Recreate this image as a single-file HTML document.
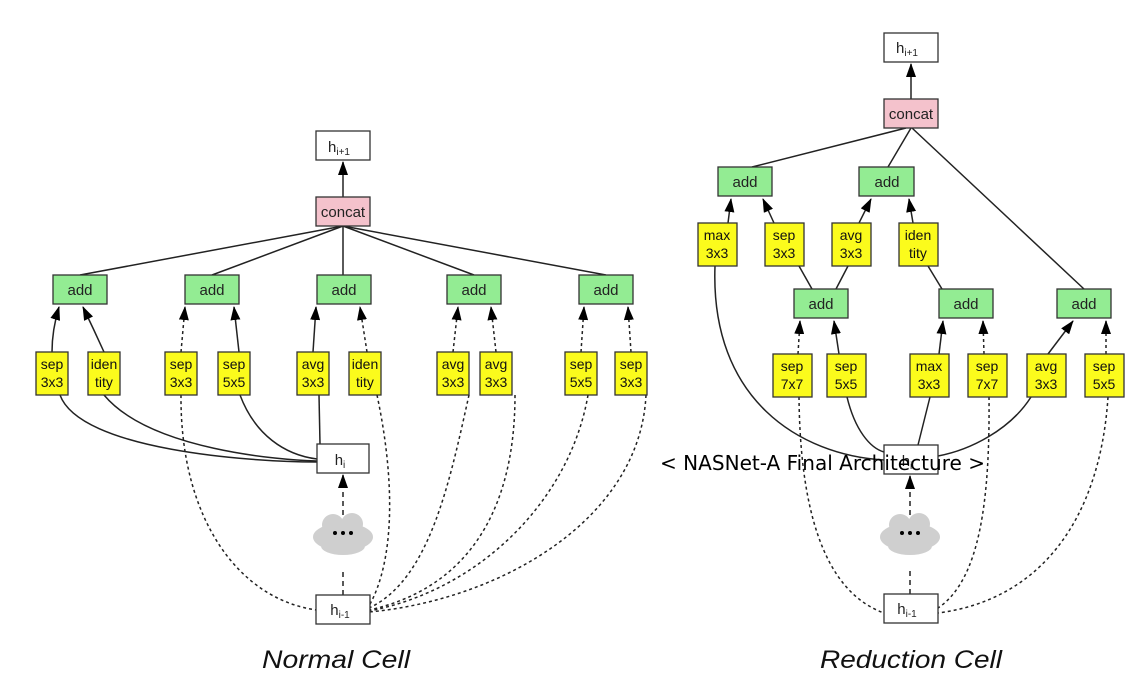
<!DOCTYPE html>
<html><head><meta charset="utf-8"><style>
html,body{margin:0;padding:0;background:#fff}
svg{display:block}
text{font-family:"Liberation Sans",Arial,sans-serif}
</style></head><body>
<svg width="1144" height="683" viewBox="0 0 1144 683" xmlns="http://www.w3.org/2000/svg">
<defs>
<marker id="a" markerWidth="14" markerHeight="10" refX="13" refY="5" orient="auto" markerUnits="userSpaceOnUse" viewBox="0 0 14 10">
<path d="M0,0 L14,5 L0,10 Z" fill="#000"/>
</marker>
</defs>
<g fill="none" stroke="#222" stroke-width="1.5">
<!-- NORMAL concat lines -->
<path d="M343,197 V162" marker-end="url(#a)"/>
<path d="M343,226 L80,275"/>
<path d="M343,226 L212,275"/>
<path d="M343,226 L343,275"/>
<path d="M343,226 L474,275"/>
<path d="M343,226 L606,275"/>
<!-- arrows from yellows to adds -->
<path d="M52,352 Q52,330 59,307" marker-end="url(#a)"/>
<path d="M104,352 Q94,330 83,307" marker-end="url(#a)"/>
<path d="M181,352 L185,307" stroke-dasharray="3,3" marker-end="url(#a)"/>
<path d="M239,352 L234,307" marker-end="url(#a)"/>
<path d="M313,352 L316,307" marker-end="url(#a)"/>
<path d="M367,352 L360,307" stroke-dasharray="3,3" marker-end="url(#a)"/>
<path d="M453,352 L458,307" stroke-dasharray="3,3" marker-end="url(#a)"/>
<path d="M496,352 L491,307" stroke-dasharray="3,3" marker-end="url(#a)"/>
<path d="M581,352 L584,307" stroke-dasharray="3,3" marker-end="url(#a)"/>
<path d="M631,352 L628,307" stroke-dasharray="3,3" marker-end="url(#a)"/>
<!-- from h_i -->
<path d="M60,395 C80,450 250,462 317,462"/>
<path d="M104,395 C150,450 280,460 317,461"/>
<path d="M240,395 C255,435 285,455 317,459"/>
<path d="M319,395 L320,444"/>
<!-- dotted from h_{i-1} -->
<g stroke-dasharray="3,3">
<path d="M181,395 C180,520 240,600 317,610"/>
<path d="M377,395 C395,480 395,560 369,606"/>
<path d="M469,395 C450,480 430,580 369,608"/>
<path d="M515,395 C515,520 460,590 369,610"/>
<path d="M588,395 C570,500 480,590 369,611"/>
<path d="M646,395 C640,520 500,600 369,612"/>
</g>
<path d="M343,595 V570" stroke-dasharray="5,4"/>
<path d="M343,515 V475" stroke-dasharray="5,4" marker-end="url(#a)"/>

<!-- REDUCTION -->
<path d="M911,99 V64" marker-end="url(#a)"/>
<path d="M906,128 L752,167"/>
<path d="M911,128 L888,167"/>
<path d="M912,128 L1084,289"/>
<path d="M728,223 L731,199" marker-end="url(#a)"/>
<path d="M774,223 L763,199" marker-end="url(#a)"/>
<path d="M859,223 L871,199" marker-end="url(#a)"/>
<path d="M913,223 L909,199" marker-end="url(#a)"/>
<path d="M799,266 L812,289"/>
<path d="M848,266 L836,289"/>
<path d="M928,266 L942,289"/>
<path d="M798,354 L800,321" stroke-dasharray="3,3" marker-end="url(#a)"/>
<path d="M839,354 L834,321" marker-end="url(#a)"/>
<path d="M939,354 L943,321" marker-end="url(#a)"/>
<path d="M984,354 L983,321" stroke-dasharray="3,3" marker-end="url(#a)"/>
<path d="M1048,354 L1073,321" marker-end="url(#a)"/>
<path d="M1106,354 L1106,321" stroke-dasharray="3,3" marker-end="url(#a)"/>
<!-- from h_i -->
<path d="M715,266 C710,400 800,455 884,460"/>
<path d="M847,397 C855,430 870,448 884,452"/>
<path d="M930,397 L918,445"/>
<path d="M1031,397 C1010,430 970,450 938,456"/>
<!-- dotted -->
<g stroke-dasharray="3,3">
<path d="M799,397 C800,500 820,590 884,613"/>
<path d="M989,397 C990,500 980,580 938,608"/>
<path d="M1108,397 C1100,520 1040,600 938,613"/>
</g>
<path d="M910,594 V570" stroke-dasharray="5,4"/>
<path d="M910,515 V476" stroke-dasharray="5,4" marker-end="url(#a)"/>
</g>

<!-- clouds -->
<g fill="#cfcfcf">
<ellipse cx="343" cy="537" rx="30" ry="14"/><circle cx="333" cy="525" r="11"/><circle cx="352" cy="524" r="11"/><ellipse cx="343" cy="546" rx="22" ry="9"/>
<ellipse cx="910" cy="537" rx="30" ry="14"/><circle cx="900" cy="525" r="11"/><circle cx="919" cy="524" r="11"/><ellipse cx="910" cy="546" rx="22" ry="9"/>
</g>
<g fill="#000"><circle cx="335" cy="533" r="2"/><circle cx="343" cy="533" r="2"/><circle cx="351" cy="533" r="2"/>
<circle cx="902" cy="533" r="2"/><circle cx="910" cy="533" r="2"/><circle cx="918" cy="533" r="2"/></g>

<!-- boxes -->
<g stroke="#333" stroke-width="1.3">
<g fill="#fff">
<rect x="316" y="131" width="54" height="29"/><rect x="317" y="444" width="52" height="29"/><rect x="316" y="595" width="54" height="29"/>
<rect x="884" y="33" width="54" height="29"/><rect x="884" y="445" width="54" height="29"/><rect x="884" y="594" width="54" height="29"/>
</g>
<g fill="#f4c2cc"><rect x="316" y="197" width="54" height="29"/><rect x="884" y="99" width="54" height="29"/></g>
<g fill="#93ec93">
<rect x="53" y="275" width="54" height="29"/><rect x="185" y="275" width="54" height="29"/><rect x="317" y="275" width="54" height="29"/><rect x="447" y="275" width="54" height="29"/><rect x="579" y="275" width="54" height="29"/>
<rect x="718" y="167" width="54" height="29"/><rect x="859" y="167" width="55" height="29"/>
<rect x="794" y="289" width="54" height="29"/><rect x="939" y="289" width="54" height="29"/><rect x="1057" y="289" width="54" height="29"/>
</g>
<g fill="#fbfb1c">
<rect x="36" y="352" width="32" height="43"/><rect x="88" y="352" width="32" height="43"/><rect x="165" y="352" width="32" height="43"/><rect x="218" y="352" width="32" height="43"/><rect x="297" y="352" width="32" height="43"/><rect x="349" y="352" width="32" height="43"/><rect x="437" y="352" width="32" height="43"/><rect x="480" y="352" width="32" height="43"/><rect x="565" y="352" width="32" height="43"/><rect x="615" y="352" width="32" height="43"/>
<rect x="698" y="223" width="39" height="43"/><rect x="765" y="223" width="39" height="43"/><rect x="832" y="223" width="39" height="43"/><rect x="899" y="223" width="39" height="43"/>
<rect x="773" y="354" width="39" height="43"/><rect x="827" y="354" width="39" height="43"/><rect x="910" y="354" width="39" height="43"/><rect x="968" y="354" width="39" height="43"/><rect x="1027" y="354" width="39" height="43"/><rect x="1085" y="354" width="39" height="43"/>
</g>
</g>

<!-- labels -->
<g font-size="15" fill="#222" text-anchor="middle">
<text x="339" y="152">h<tspan font-size="10" dy="3">i+1</tspan></text>
<text x="343" y="217">concat</text>
<text x="340" y="465">h<tspan font-size="10" dy="3">i</tspan></text>
<text x="340" y="615">h<tspan font-size="10" dy="3">i-1</tspan></text>
<text x="907" y="53">h<tspan font-size="10" dy="3">i+1</tspan></text>
<text x="911" y="119">concat</text>
<text x="907" y="466">h<tspan font-size="10" dy="3">i</tspan></text>
<text x="907" y="614">h<tspan font-size="10" dy="3">i-1</tspan></text>
<text x="80" y="295">add</text><text x="212" y="295">add</text><text x="344" y="295">add</text><text x="474" y="295">add</text><text x="606" y="295">add</text>
<text x="745" y="187">add</text><text x="887" y="187">add</text>
<text x="821" y="309">add</text><text x="966" y="309">add</text><text x="1084" y="309">add</text>
</g>
<g font-size="14" fill="#111" text-anchor="middle">
<text x="52" y="369">sep</text><text x="52" y="387">3x3</text>
<text x="104" y="369">iden</text><text x="104" y="387">tity</text>
<text x="181" y="369">sep</text><text x="181" y="387">3x3</text>
<text x="234" y="369">sep</text><text x="234" y="387">5x5</text>
<text x="313" y="369">avg</text><text x="313" y="387">3x3</text>
<text x="365" y="369">iden</text><text x="365" y="387">tity</text>
<text x="453" y="369">avg</text><text x="453" y="387">3x3</text>
<text x="496" y="369">avg</text><text x="496" y="387">3x3</text>
<text x="581" y="369">sep</text><text x="581" y="387">5x5</text>
<text x="631" y="369">sep</text><text x="631" y="387">3x3</text>
<text x="717" y="240">max</text><text x="717" y="258">3x3</text>
<text x="784" y="240">sep</text><text x="784" y="258">3x3</text>
<text x="851" y="240">avg</text><text x="851" y="258">3x3</text>
<text x="918" y="240">iden</text><text x="918" y="258">tity</text>
<text x="792" y="371">sep</text><text x="792" y="389">7x7</text>
<text x="846" y="371">sep</text><text x="846" y="389">5x5</text>
<text x="929" y="371">max</text><text x="929" y="389">3x3</text>
<text x="987" y="371">sep</text><text x="987" y="389">7x7</text>
<text x="1046" y="371">avg</text><text x="1046" y="389">3x3</text>
<text x="1104" y="371">sep</text><text x="1104" y="389">5x5</text>
</g>
<text x="262" y="668" font-size="25" font-style="italic" fill="#111" textLength="148" lengthAdjust="spacingAndGlyphs">Normal Cell</text>
<text x="820" y="668" font-size="25" font-style="italic" fill="#111" textLength="182" lengthAdjust="spacingAndGlyphs">Reduction Cell</text>
<text x="660" y="470" font-size="20" fill="#000" style="font-family:'DejaVu Sans','Noto Sans CJK KR',sans-serif" textLength="325" lengthAdjust="spacingAndGlyphs">&lt; NASNet-A Final Architecture &gt;</text>
</svg>
</body></html>
